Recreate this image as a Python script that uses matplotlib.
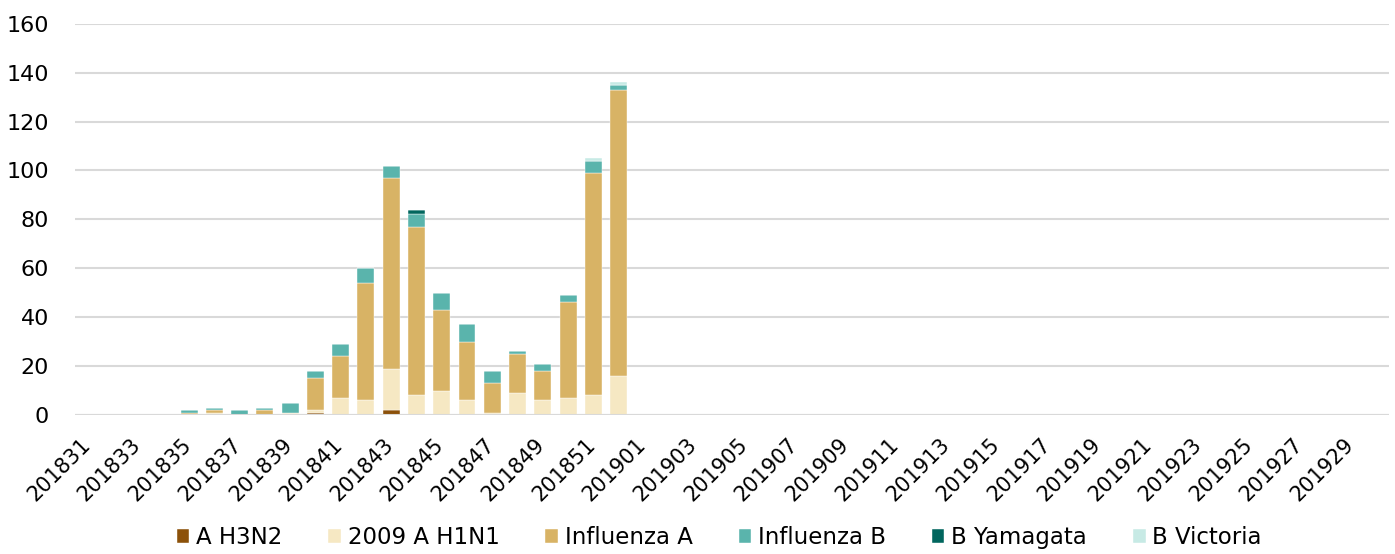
import numpy as np
import matplotlib
matplotlib.use("Agg")
import matplotlib.pyplot as plt
from matplotlib.transforms import ScaledTranslation

# weeks 201831..201852, 201901..201930
weeks = [f"2018{w:02d}" for w in range(31, 53)] + [f"2019{w:02d}" for w in range(1, 31)]
n = len(weeks)

def pad(vals):
    return np.array(vals + [0] * (n - len(vals)), dtype=float)

#                 31 32 33 34 35 36 37 38 39 40  41  42  43  44  45  46  47  48  49  50  51   52
a_h3n2      = pad([0, 0, 0, 0, 0, 0, 0, 0, 0, 1,  0,  0,  2,  0,  0,  0,  0,  0,  0,  0,  0,   0])
a_h1n1_2009 = pad([0, 0, 0, 0, 0, 1, 0, 0, 1, 1,  7,  6, 17,  8, 10,  6,  1,  9,  6,  7,  8,  16])
influenza_a = pad([0, 0, 0, 0, 1, 1, 0, 2, 0, 13, 17, 48, 78, 69, 33, 24, 12, 16, 12, 39, 91, 117])
influenza_b = pad([0, 0, 0, 0, 1, 1, 2, 1, 4, 3,  5,  6,  5,  5,  7,  7,  5,  1,  3,  3,  5,   2])
b_yamagata  = pad([0, 0, 0, 0, 0, 0, 0, 0, 0, 0,  0,  0,  0,  2,  0,  0,  0,  0,  0,  0,  0,   0])
b_victoria  = pad([0, 0, 0, 0, 0, 0, 0, 0, 0, 0,  0,  0,  0,  0,  0,  0,  0,  0,  0,  0,  1,   1])

series = [
    ("A H3N2", a_h3n2, "#8c510a"),
    ("2009 A H1N1", a_h1n1_2009, "#f6e8c3"),
    ("Influenza A", influenza_a, "#d8b365"),
    ("Influenza B", influenza_b, "#5ab4ac"),
    ("B Yamagata", b_yamagata, "#01665e"),
    ("B Victoria", b_victoria, "#c7eae5"),
]

plt.rcParams['font.family'] = ['DejaVu Sans']

fig = plt.figure(figsize=(13.95, 5.54), dpi=100)
ax = fig.add_axes([0.054, 0.251, 0.942, 0.706])

x = np.arange(n)
bottom = np.zeros(n)
for label, vals, color in series:
    ax.bar(x, vals, width=0.67, bottom=bottom, color=color, label=label,
           edgecolor='white', linewidth=0.3, zorder=3)
    bottom += vals

ax.set_xlim(-0.5, n - 0.5)
ax.set_ylim(0, 160)
ax.set_yticks(range(0, 161, 20))
ax.yaxis.grid(True, color='#d9d9d9', linewidth=1.5, zorder=0)
for s in ax.spines.values():
    s.set_visible(False)
ax.axhline(0, color='#d9d9d9', linewidth=1.5, zorder=4)
ax.tick_params(axis='both', length=0, colors='black')
ax.tick_params(axis='y', pad=19, labelsize=16)

ax.set_xticks(x[::2])
ax.set_xticklabels(weeks[::2], rotation=45, ha='right', va='top',
                   rotation_mode='anchor', fontsize=15)
ax.tick_params(axis='x', pad=14)
shift = ScaledTranslation(-8 / 100, 0, fig.dpi_scale_trans)
for lbl in ax.get_xticklabels():
    lbl.set_transform(lbl.get_transform() + shift)

ax.legend(loc='upper center', bbox_to_anchor=(0.49, -0.232), ncol=6, frameon=False,
          fontsize=16.5, handlelength=0.55, handleheight=0.55, handletextpad=0.3,
          columnspacing=2.0)

fig.savefig("out.png", dpi=100)
